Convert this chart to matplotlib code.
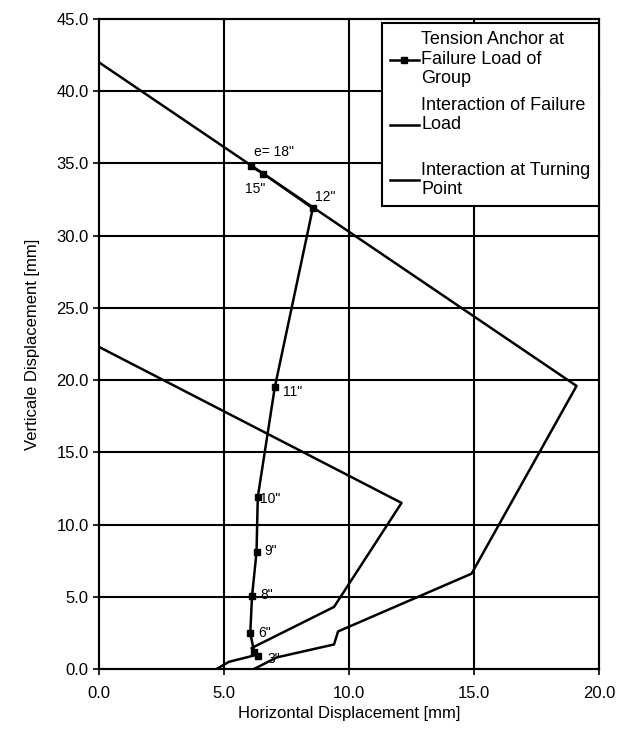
import matplotlib.pyplot as plt

plt.rcParams['font.family'] = ['Liberation Sans', 'DejaVu Sans']

# Tension anchor at failure load of group (e = 3" ... 18")
anchor_x = [6.35, 6.2, 6.05, 6.12, 6.3, 6.35, 7.03, 8.55, 6.57, 6.07]
anchor_y = [0.9, 1.2, 2.5, 5.05, 8.1, 11.9, 19.5, 31.9, 34.3, 34.8]
anchor_labels = ['3"', '', '6"', '8"', '9"', '10"', '11"', '12"', '15"', 'e= 18"']
label_pos = [(6.75, 0.7), None, (6.35, 2.5), (6.45, 5.1), (6.6, 8.2), (6.45, 11.8),
             (7.35, 19.2), (8.65, 32.7), (5.85, 33.2), (6.2, 35.8)]

# Interaction of failure load
fail_x = [0.0, 19.1, 14.9, 9.56, 9.4, 7.1, 6.2]
fail_y = [42.0, 19.6, 6.6, 2.6, 1.7, 0.8, 0.0]

# Interaction at turning point
turn_x = [0.0, 12.1, 9.4, 6.1, 6.35, 5.2, 4.7]
turn_y = [22.3, 11.5, 4.3, 1.45, 1.0, 0.5, 0.0]

fig = plt.figure(figsize=(6.24, 7.33), dpi=100)
ax = fig.add_axes([0.1587, 0.0873, 0.8013, 0.8867])

ax.plot(anchor_x, anchor_y, color='black', lw=1.8, marker='s', ms=4.5,
        label='Tension Anchor at\nFailure Load of\nGroup')
ax.plot(fail_x, fail_y, color='black', lw=1.8, label='Interaction of Failure\nLoad\n')
ax.plot(turn_x, turn_y, color='black', lw=1.8, label='Interaction at Turning\nPoint')

for lab, pos in zip(anchor_labels, label_pos):
    if lab:
        ax.text(pos[0], pos[1], lab, fontsize=10, va='center', ha='left')

ax.set_xlim(0, 20)
ax.set_ylim(0, 45)
ax.set_xticks([0, 5, 10, 15, 20])
ax.set_yticks([0, 5, 10, 15, 20, 25, 30, 35, 40, 45])
ax.set_xticklabels([f'{v:.1f}' for v in [0, 5, 10, 15, 20]])
ax.set_yticklabels([f'{v:.1f}' for v in range(0, 50, 5)])
ax.tick_params(direction='inout', length=8, width=1.2, labelsize=12)
ax.tick_params(axis='x', pad=8)
ax.grid(True, color='black', lw=1.5, clip_on=False)
for s in ax.spines.values():
    s.set_linewidth(1.5)

ax.set_xlabel('Horizontal Displacement [mm]', fontsize=12)
ax.set_ylabel('Verticale Displacement [mm]', fontsize=12, labelpad=12)

leg = ax.legend(loc='upper right', bbox_to_anchor=(1.01, 1.002), fontsize=13,
                frameon=True, fancybox=False, edgecolor='black', framealpha=1,
                handlelength=1.6, handletextpad=0.15, labelspacing=0.5,
                borderpad=0.45, borderaxespad=0.3)
leg.get_frame().set_linewidth(1.5)

fig.savefig('out.png', dpi=100)
